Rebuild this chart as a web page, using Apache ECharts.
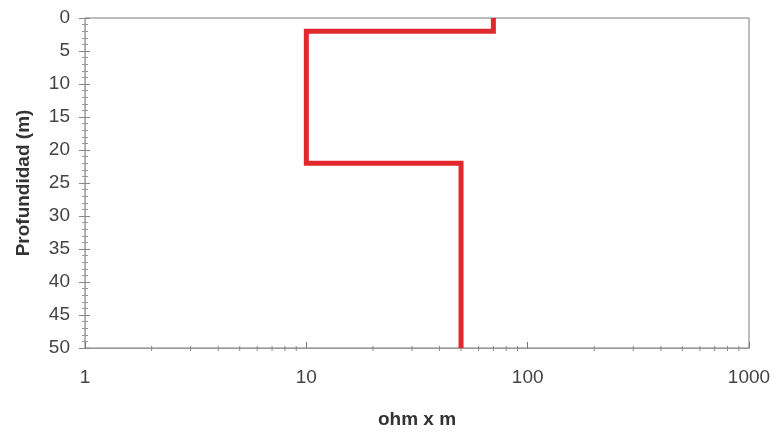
<!DOCTYPE html>
<html><head><meta charset="utf-8">
<script src="https://cdn.jsdelivr.net/npm/echarts@6/dist/echarts.min.js"></script>
<style>html,body{margin:0;padding:0;background:#fff}#c{width:778px;height:434px}</style>
</head><body><div id="c"></div>
<script>
const resistivity = [70, 70, 10, 10, 50, 50];
const depth = [0, 2, 2, 22, 22, 50];
const xMinorTicks = [2,3,4,5,6,7,8,9,20,30,40,50,60,70,80,90,200,300,400,500,600,700,800,900];
const xName = 'ohm x m';
const yName = 'Profundidad (m)';

const font = 'Liberation Sans, Arial, sans-serif';
const chart = echarts.init(document.getElementById('c'));
chart.setOption({
  animation: false,
  grid: {left: 85, right: 29, top: 18, bottom: 85, show: true, borderColor: '#7a7a7a', borderWidth: 1},
  xAxis: {
    type: 'log', logBase: 10, min: 1, max: 1000,
    name: xName, nameLocation: 'middle', nameGap: 62,
    nameTextStyle: {fontFamily: font, fontSize: 19, fontWeight: 'bold', color: '#333'},
    axisLine: {onZero: false, lineStyle: {color: '#999'}},
    axisTick: {show: true, inside: true, length: 6, lineStyle: {color: '#777'}},
    minorTick: {show: false},
    splitLine: {show: false},
    axisLabel: {fontFamily: font, fontSize: 19, color: '#444', margin: 20,
                formatter: v => String(Math.round(v))}
  },
  yAxis: [{
    type: 'value', inverse: true, min: 0, max: 50, interval: 5,
    name: yName, nameLocation: 'middle', nameGap: 52, nameRotate: 90,
    nameTextStyle: {fontFamily: font, fontSize: 19, fontWeight: 'bold', color: '#333'},
    axisLine: {show: true, lineStyle: {color: '#aaa'}},
    axisTick: {show: true, length: 6, lineStyle: {color: '#888'}},
    minorTick: {show: true, splitNumber: 5, length: 3, lineStyle: {color: '#999'}},
    splitLine: {show: false},
    axisLabel: {fontFamily: font, fontSize: 19, color: '#444', margin: 15}
  }, {
    type: 'value', inverse: true, min: 0, max: 50, interval: 5, position: 'left', offset: 0,
    axisLine: {show: false},
    axisTick: {show: true, inside: true, length: 5, lineStyle: {color: '#888'}},
    minorTick: {show: true, splitNumber: 5, length: 3, lineStyle: {color: '#999'}},
    splitLine: {show: false},
    axisLabel: {show: false}
  }],
  series: [{
    type: 'custom',
    data: xMinorTicks.map(v => [v, 50]),
    renderItem: function (params, api) {
      const p = api.coord([api.value(0), api.value(1)]);
      return {type: 'line', shape: {x1: p[0], y1: p[1] - 2, x2: p[0], y2: p[1] + 3},
              style: {stroke: '#888', lineWidth: 1}};
    },
    silent: true, z: 1
  }, {
    type: 'line',
    data: resistivity.map((r, i) => [r, depth[i]]),
    showSymbol: false,
    lineStyle: {color: '#e0282d', width: 5, join: 'miter'},
    z: 3
  }]
});
</script></body></html>
